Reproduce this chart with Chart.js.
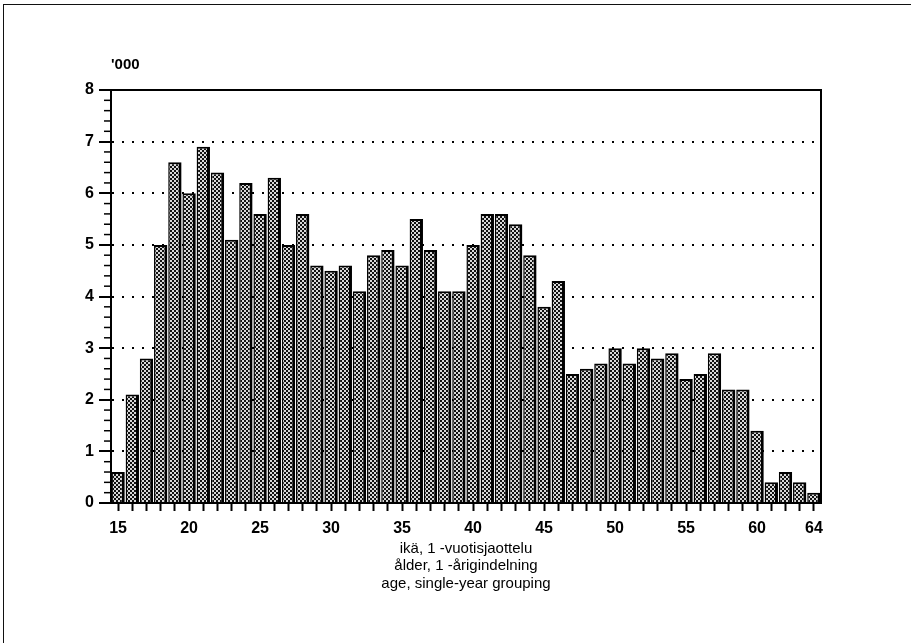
<!DOCTYPE html>
<html>
<head>
<meta charset="utf-8">
<script src="https://cdn.jsdelivr.net/npm/chart.js@4.4.0/dist/chart.umd.min.js"></script>
<style>
  html, body { margin: 0; padding: 0; background: #fff; }
  #wrap { position: relative; width: 911px; height: 643px; overflow: hidden; }
  #frame { position: absolute; left: 3px; top: 4px; right: -10px; bottom: -10px;
           border-top: 1.5px solid #111; border-left: 1.5px solid #111; }
  canvas { position: absolute; left: 0; top: 0; }
</style>
</head>
<body>
<div id="wrap"><div id="frame"></div><canvas id="ageChart" width="911" height="643"></canvas></div>
<script>
// ages, single-year grouping
const ages = [15, 16, 17, 18, 19, 20, 21, 22, 23, 24, 25, 26, 27, 28, 29, 30, 31, 32, 33, 34,
  35, 36, 37, 38, 39, 40, 41, 42, 43, 44, 45, 46, 47, 48, 49, 50, 51, 52, 53, 54,
  55, 56, 57, 58, 59, 60, 61, 62, 63, 64];
// thousands
const counts = [0.6, 2.1, 2.8, 5.0, 6.6, 6.0, 6.9, 6.4, 5.1, 6.2, 5.6, 6.3, 5.0, 5.6, 4.6, 4.5, 4.6, 4.1, 4.8, 4.9,
  4.6, 5.5, 4.9, 4.1, 4.1, 5.0, 5.6, 5.6, 5.4, 4.8, 3.8, 4.3, 2.5, 2.6, 2.7, 3.0, 2.7, 3.0, 2.8, 2.9,
  2.4, 2.5, 2.9, 2.2, 2.2, 1.4, 0.4, 0.6, 0.4, 0.2];
const xTickLabels = [15, 20, 25, 30, 35, 40, 45, 50, 55, 60, 64];
const yMax = 8;
const unitLabel = "'000";
const axisTitle = ["ikä, 1 -vuotisjaottelu", "ålder, 1 -årigindelning", "age, single-year grouping"];

const FONT = "'Liberation Sans', Arial, Helvetica, sans-serif";

// grainy checker fill like the printed screen
function makePattern() {
  const c = document.createElement("canvas");
  c.width = 4;
  c.height = 4;
  const g = c.getContext("2d");
  g.fillStyle = "#d8d8d8";
  g.fillRect(0, 0, 4, 4);
  g.fillStyle = "#111";
  g.fillRect(0, 0, 2, 2);
  g.fillRect(2, 2, 2, 2);
  return g.createPattern(c, "repeat");
}

const framePlugin = {
  id: "framePlugin",
  afterDraw(chart) {
    const { ctx, chartArea: a, scales } = chart;
    const y = scales.y;
    ctx.save();
    // top and right edge of the plot box
    ctx.strokeStyle = "#000";
    ctx.lineWidth = 2;
    ctx.beginPath();
    ctx.moveTo(a.left, a.top);
    ctx.lineTo(a.right, a.top);
    ctx.lineTo(a.right, a.bottom);
    ctx.stroke();
    // minor ticks every 0.2
    ctx.lineWidth = 1.5;
    for (let i = 0; i <= yMax * 5; i++) {
      if (i % 5 === 0) continue;
      const py = y.getPixelForValue(i / 5);
      ctx.beginPath();
      ctx.moveTo(a.left - 7, py);
      ctx.lineTo(a.left, py);
      ctx.stroke();
    }
    // unit label
    ctx.fillStyle = "#000";
    ctx.font = "bold 15px " + FONT;
    ctx.textAlign = "left";
    ctx.textBaseline = "middle";
    ctx.fillText(unitLabel, a.left, a.top - 25);
    ctx.restore();
  },
};

const ctx = document.getElementById("ageChart").getContext("2d");
const ageChart = new Chart(ctx, {
  type: "bar",
  data: {
    labels: ages,
    datasets: [
      {
        data: counts,
        backgroundColor: makePattern(),
        borderColor: "#000",
        borderWidth: { top: 2, right: 3, left: 1.5, bottom: 0 },
        borderSkipped: "start",
        barPercentage: 0.94,
        categoryPercentage: 1,
      },
    ],
  },
  options: {
    responsive: false,
    animation: false,
    devicePixelRatio: 1,
    layout: { padding: { top: 90, right: 90, bottom: 0, left: 0 } },
    plugins: { legend: { display: false }, tooltip: { enabled: false } },
    scales: {
      x: {
        afterFit: (scale) => { scale.height = 140; },
        grid: {
          display: true,
          drawOnChartArea: false,
          drawTicks: true,
          offset: false,
          tickLength: 8,
          tickColor: "#000",
          tickWidth: 2,
          tickBorderDash: [],
        },
        border: { display: true, color: "#000", width: 2 },
        ticks: {
          autoSkip: false,
          maxRotation: 0,
          padding: 8,
          color: "#000",
          font: { family: FONT, size: 16, weight: "bold" },
          callback: function (value) {
            const age = ages[value];
            return xTickLabels.includes(age) ? String(age) : "";
          },
        },
        title: {
          display: true,
          text: axisTitle,
          color: "#000",
          font: { family: FONT, size: 15, lineHeight: 1.15 },
          padding: { top: 0, bottom: 51 },
        },
      },
      y: {
        min: 0,
        max: yMax,
        afterFit: (scale) => { scale.width = 111; },
        grid: {
          color: (c) => (c.tick && c.tick.value > 0 ? "#000" : "rgba(0,0,0,0)"),
          lineWidth: 2,
          tickLength: 12,
          tickColor: "#000",
          tickWidth: 2,
          tickBorderDash: [],
        },
        border: { display: true, color: "#000", width: 2, dash: [2, 8] },
        ticks: {
          stepSize: 1,
          padding: 5,
          color: "#000",
          font: { family: FONT, size: 16, weight: "bold" },
        },
      },
    },
  },
  plugins: [framePlugin],
});
</script>
</body>
</html>
